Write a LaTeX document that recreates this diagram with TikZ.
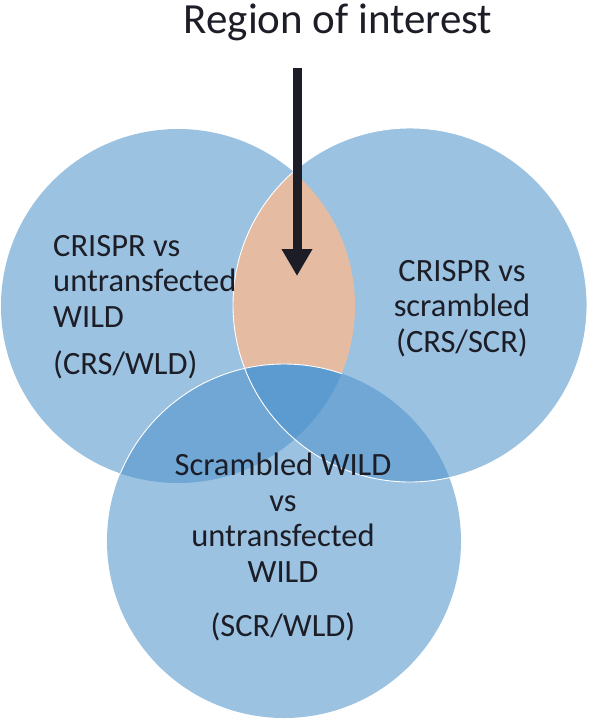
\documentclass[tikz,border=0pt]{standalone}
\usepackage{fontspec}
\setmainfont{Carlito}
\usetikzlibrary{arrows.meta,positioning}
\definecolor{setblue}{HTML}{9BC2E1}
\definecolor{pairblue}{HTML}{70A7D5}
\definecolor{coreblue}{HTML}{5C9BD0}
\definecolor{roipeach}{HTML}{E5BBA2}
\definecolor{inkdark}{HTML}{1C1D26}
\tikzset{
  setlabel/.style={text=inkdark, font=\fontsize{32.5}{35.5}\selectfont, inner sep=0pt},
  titlelabel/.style={text=inkdark, font=\fontsize{43}{50}\selectfont, inner sep=0pt},
  roiarrow/.style={-{Triangle[length=27pt, width=29pt]}, line width=9pt, draw=inkdark},
  rim/.style={draw=white, line width=0.9pt}
}

\begin{document}
\begin{tikzpicture}[x=1pt, y=-1pt]
  \useasboundingbox (0,0) rectangle (592,721);
  \def\rad{177pt}
  \coordinate (cl) at (178,306);
  \coordinate (cr) at (410,305);
  \coordinate (cb) at (284,541);
  % the three sets
  \fill[setblue] (cl) circle[radius=\rad] (cr) circle[radius=\rad] (cb) circle[radius=\rad];
  \begin{scope}
    \clip (cl) circle[radius=\rad];
    \fill[roipeach] (cr) circle[radius=\rad];
  \end{scope}
  \begin{scope}
    \clip (cb) circle[radius=\rad];
    \fill[pairblue] (cl) circle[radius=\rad] (cr) circle[radius=\rad];
    \clip (cl) circle[radius=\rad];
    \fill[coreblue] (cr) circle[radius=\rad];
  \end{scope}
  \draw[rim] (cr) circle[radius=\rad];
  \begin{scope}
    \clip (cl) circle[radius=\rad];
    \draw[rim] (cb) circle[radius=\rad];
  \end{scope}
  % labels
  \node[titlelabel, anchor=base] (title) at (338,33) {Region of interest};
  \node[setlabel, anchor=north west, align=left] (crswld) at (53,235)
    {CRISPR vs\\untransfected\\WILD\\[12pt](CRS/WLD)};
  \node[setlabel, anchor=north, align=center] (crsscr) at (462,260)
    {CRISPR vs\\scrambled\\(CRS/SCR)};
  \node[setlabel, anchor=north, align=center] (scrwld) at (283,453)
    {Scrambled WILD\\vs\\untransfected\\WILD\\[19pt](SCR/WLD)};
  % arrow into the region of interest
  \coordinate (roitop) at (297,68);
  \coordinate (roi) at (297,276);
  \draw[roiarrow] (roitop) -- (roi);
\end{tikzpicture}
\end{document}
